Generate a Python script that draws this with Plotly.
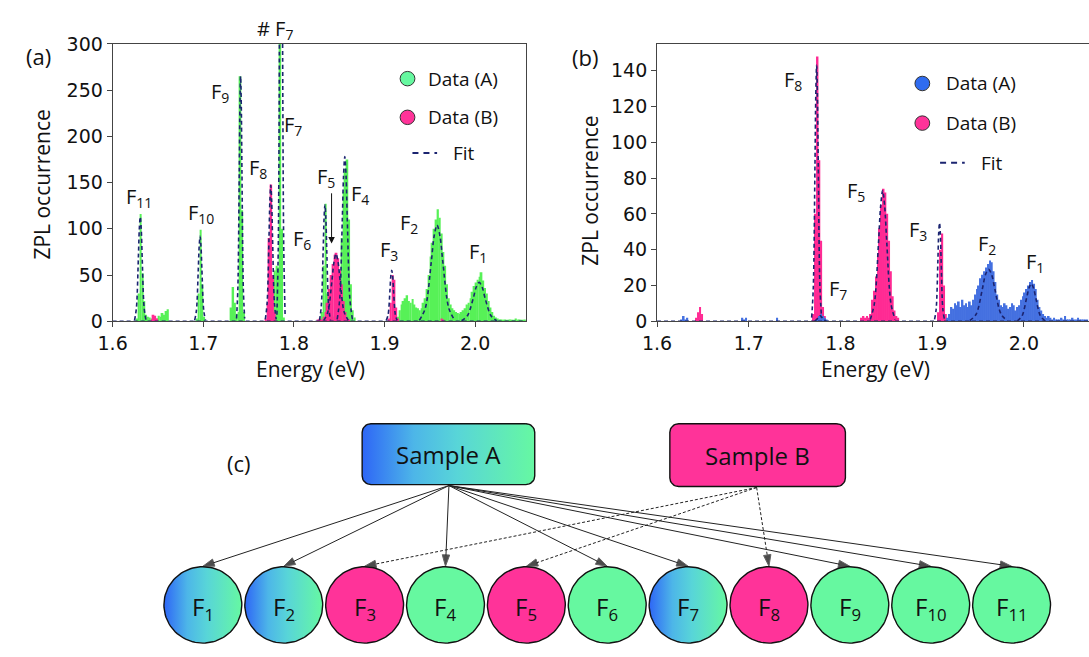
import math
import plotly.graph_objects as go

W, H = 1089, 657

# ---------------- data ----------------
BIN_W = 0.002  # histogram bin width (eV)

# (bin start energy, counts...) — panel (a)
A_GREEN_SEGMENTS = [
    (1.626, [3, 30, 116, 52, 22, 7, 5, 4, 3]),
    (1.648, [3, 6, 5, 9, 7, 11, 13]),
    (1.692, [3, 30, 99, 40, 5]),
    (1.730, [15, 37, 20, 8, 10, 265, 120, 10]),
    (1.776, [8, 55, 60, 58, 420, 100, 4]),
    (1.828, [2, 10, 60, 127, 30, 8, 5, 5, 6, 10, 20, 45, 90, 140, 165, 175, 110, 40, 12, 4]),
    (1.914, [5, 12, 18, 22, 25, 28, 22, 20, 24, 18, 15, 14, 12, 14, 20, 25, 35, 50, 70, 85,
             100, 110, 121, 112, 95, 75, 60, 40, 25, 18, 14, 12, 10, 9, 8, 10, 12, 14, 18, 20,
             25, 32, 38, 42, 45, 48, 53, 44, 36, 30, 22, 15, 10, 6, 4, 3, 2, 2, 1, 2,
             1, 1, 2, 1, 1, 3, 1, 2, 1, 1, 2]),
]
A_PINK_SEGMENTS = [
    (1.642, [2, 7, 6, 3]),
    (1.768, [3, 20, 90, 148, 50, 10]),
    (1.826, [2, 3, 2, 5, 10, 20, 35, 50, 62, 72, 74, 68, 55, 40, 22, 10, 4, 2]),
    (1.904, [3, 20, 50, 45, 15, 3]),
    (1.962, [3, 2]),
]
# panel (b)
B_BLUE_SEGMENTS = [
    (1.626, [1, 3, 1, 2]),
    (1.692, [2, 1, 2]),
    (1.730, [2]),
    (1.774, [1, 3, 4, 3, 2, 1]),
    (1.916, [2, 4, 8, 7, 10, 9, 11, 8, 12, 9, 10, 8, 11, 9, 12, 15, 18, 20, 24, 26,
             28, 30, 32, 34, 33, 28, 22, 15, 12, 9, 8, 10, 9, 7, 8, 10, 9, 6, 8, 9,
             12, 14, 16, 18, 20, 22, 23, 21, 18, 12, 8, 6, 4, 3, 2, 3, 2, 1, 2, 1,
             1, 1, 2, 1, 3, 1, 1, 1, 2, 1, 1, 2, 1, 1, 1, 1, 1]),
]
B_PINK_SEGMENTS = [
    (1.642, [2, 5, 8, 4]),
    (1.770, [4, 60, 148, 90, 45, 8, 3]),
    (1.822, [2, 3, 2, 3, 2, 4, 12, 17, 25, 38, 52, 65, 74, 72, 60, 45, 28, 14, 6, 3, 2]),
    (1.906, [5, 40, 49, 20, 4]),
]

# fitted curves: (energies, counts) per peak
FIT_A_SEGMENTS = [
    ([1.600, 2.056], [0, 0]),
    ([1.6242, 1.6263, 1.6284, 1.62945, 1.6305, 1.63155, 1.6326, 1.6347, 1.6368], [1, 15, 69, 100, 113, 100, 69, 15, 1]),
    ([1.6905, 1.6925, 1.6945, 1.6955, 1.6965, 1.6975, 1.6985, 1.7005, 1.7025], [1, 12, 56, 81, 92, 81, 56, 12, 1]),
    ([1.7367, 1.7382, 1.7397, 1.74045, 1.7412, 1.74195, 1.7427, 1.7442, 1.7457], [3, 36, 161, 234, 265, 234, 161, 36, 3]),
    ([1.7685, 1.7705, 1.7725, 1.7735, 1.7745, 1.7755, 1.7765, 1.7785, 1.7805], [2, 20, 89, 130, 147, 130, 89, 20, 2]),
    ([1.7813, 1.7828, 1.7843, 1.78505, 1.7858, 1.78655, 1.7873, 1.7888, 1.7903], [7, 81, 364, 529, 600, 529, 364, 81, 7]),
    ([1.8283, 1.8303, 1.8323, 1.8333, 1.8343, 1.8353, 1.8363, 1.8383, 1.8403], [1, 17, 76, 111, 126, 111, 76, 17, 1]),
    ([1.8330, 1.8375, 1.8420, 1.84425, 1.8465, 1.84875, 1.8510, 1.8555, 1.8600], [1, 10, 44, 64, 73, 64, 44, 10, 1]),
    ([1.8478, 1.8506, 1.8534, 1.8548, 1.8562, 1.8576, 1.8590, 1.8618, 1.8646], [2, 24, 108, 157, 178, 157, 108, 24, 2]),
    ([1.9020, 1.9040, 1.9060, 1.9070, 1.9080, 1.9090, 1.9100, 1.9120, 1.9140], [1, 7, 33, 49, 55, 49, 33, 7, 1]),
    ([1.9385, 1.9450, 1.9515, 1.95475, 1.9580, 1.96125, 1.9645, 1.9710, 1.9775], [1, 14, 63, 92, 104, 92, 63, 14, 1]),
    ([1.9850, 1.9915, 1.9980, 2.00125, 2.0045, 2.00775, 2.0110, 2.0175, 2.0240], [0.5, 6, 25, 37, 42, 37, 25, 6, 0.5]),
]
FIT_B_SEGMENTS = [
    ([1.600, 2.071], [0, 0]),
    ([1.7686, 1.7704, 1.7722, 1.7731, 1.7740, 1.7749, 1.7758, 1.7776, 1.7794], [2, 19, 87, 126, 143, 126, 87, 19, 2]),
    ([1.7720, 1.7760, 1.7780, 1.7800, 1.7840], [0, 2, 3, 2, 0]),
    ([1.8325, 1.8370, 1.8415, 1.84375, 1.8460, 1.84825, 1.8505, 1.8550, 1.8595], [1, 10, 44, 64, 73, 64, 44, 10, 1]),
    ([1.9026, 1.9044, 1.9062, 1.9071, 1.9080, 1.9089, 1.9098, 1.9116, 1.9134], [1, 7, 33, 49, 55, 49, 33, 7, 1]),
    ([1.9410, 1.9480, 1.9547, 1.9581, 1.9615, 1.9649, 1.9683, 1.9751, 1.9820], [0.3, 4, 18, 26, 29, 26, 18, 4, 0.3]),
    ([1.9930, 1.9980, 2.0030, 2.0055, 2.0080, 2.0105, 2.0130, 2.0180, 2.0230], [0.2, 3, 13, 18.5, 21, 18.5, 13, 3, 0.2]),
]

XTICKS = [1.6, 1.7, 1.8, 1.9, 2.0]
XTICK_TEXT = ["1.6", "1.7", "1.8", "1.9", "2.0"]
YTICKS_A = [0, 50, 100, 150, 200, 250, 300]
YTICKS_B = [0, 20, 40, 60, 80, 100, 120, 140]

# peak labels: (text, energy, count)
PEAK_LABELS_A = [
    ("F<sub>11</sub>", 1.6294, 134), ("F<sub>10</sub>", 1.698, 116), ("F<sub>9</sub>", 1.7186, 247),
    ("F<sub>8</sub>", 1.760, 165), ("F<sub>7</sub>", 1.7991, 212), ("F<sub>6</sub>", 1.809, 88),
    ("F<sub>5</sub>", 1.836, 156), ("F<sub>4</sub>", 1.873, 137), ("F<sub>3</sub>", 1.9047, 77),
    ("F<sub>2</sub>", 1.9275, 106), ("F<sub>1</sub>", 2.0037, 74),
]
OFFSCALE_LABEL = ("# F<sub>7</sub>", 1.7795)  # drawn above the top of panel (a)
PEAK_LABELS_B = [
    ("F<sub>8</sub>", 1.7484, 134.6), ("F<sub>7</sub>", 1.7978, 17.8), ("F<sub>5</sub>", 1.8172, 72.4),
    ("F<sub>3</sub>", 1.885, 50.8), ("F<sub>2</sub>", 1.9602, 42.7), ("F<sub>1</sub>", 2.0118, 33),
]

# diagram (c)
NODE_NAMES = ["F<sub>%d</sub>" % i for i in range(1, 12)]
NODE_KIND = ["AB", "AB", "B", "A", "B", "A", "AB", "B", "A", "A", "A"]
LINKS_A = [1, 2, 4, 6, 7, 9, 10, 11]
LINKS_B = [3, 5, 8]

# ---------------- style ----------------
GREEN_BAR = "#57f157"
PINK = "#ff2a93"
BLUE_BAR = "#4470e0"
FIT_COL = "#1b2470"
MINT = "#66f8a0"
NODE_PINK = "#ff3399"
LEG_BLUE = "#2f6cf0"
GRAD = [[0, "#2e66f6"], [0.3, "#4db6e8"], [0.55, "#58d5d8"], [1, "#66f8a2"]]
AX_COL = "#444444"
TEXT_FONT = "Open Sans"
TICK_FONT = "DejaVu Sans"

# panel geometry (pixels)
A_LEFT, A_RIGHT, B_LEFT, PLOT_TOP, PLOT_BOTTOM = 99, 518, 651, 34, 321


def px(x):
    return x / W


def py(y):
    return 1 - y / H


def expand(segments):
    xs, ys = [], []
    for start, counts in segments:
        for i, c in enumerate(counts):
            xs.append(round(start + (i + 0.5) * BIN_W, 5))
            ys.append(c)
    return xs, ys


def join(segments):
    xs, ys = [], []
    for e, c in segments:
        xs += list(e) + [None]
        ys += list(c) + [None]
    return xs, ys


fig = go.Figure()


def add_hist(segments, color, xa, ya):
    xs, ys = expand(segments)
    fig.add_trace(go.Bar(x=xs, y=ys, width=BIN_W, marker=dict(color=color, line=dict(width=0)),
                         xaxis=xa, yaxis=ya, showlegend=False, hoverinfo="skip"))


add_hist(A_GREEN_SEGMENTS, GREEN_BAR, "x", "y")
add_hist(A_PINK_SEGMENTS, PINK, "x", "y")
add_hist(B_PINK_SEGMENTS, PINK, "x2", "y2")
add_hist(B_BLUE_SEGMENTS, BLUE_BAR, "x2", "y2")

for segs, xa, ya in [(FIT_A_SEGMENTS, "x", "y"), (FIT_B_SEGMENTS, "x2", "y2")]:
    fx, fy = join(segs)
    fig.add_trace(go.Scatter(x=fx, y=fy, mode="lines", xaxis=xa, yaxis=ya,
                             line=dict(color=FIT_COL, width=1.6, dash="4px,3px", shape="spline", smoothing=0.9),
                             connectgaps=False, showlegend=False, hoverinfo="skip"))

annotations = []


def label(**kw):
    base = dict(showarrow=False, xanchor="center", yanchor="middle")
    base.update(kw)
    annotations.append(base)


for txt, e, c in PEAK_LABELS_A:
    label(x=e, y=c, xref="x", yref="y", text=txt, font=dict(family=TEXT_FONT, size=20, color="#111"))
for txt, e, c in PEAK_LABELS_B:
    label(x=e, y=c, xref="x2", yref="y2", text=txt, font=dict(family=TEXT_FONT, size=20, color="#111"))
label(x=OFFSCALE_LABEL[1], y=py(19), xref="x", yref="paper", text=OFFSCALE_LABEL[0],
      font=dict(family=TEXT_FONT, size=20, color="#111"))
# arrow to F5 in (a)
annotations.append(dict(x=1.8416, y=84, ax=1.8416, ay=140, xref="x", yref="y", axref="x", ayref="y",
                        text="", showarrow=True, arrowhead=2, arrowsize=1.3, arrowwidth=1, arrowcolor="#111"))

# axis titles and panel letters
for txt, x, y, ang in [("ZPL occurrence", 27, 180, -90), ("ZPL occurrence", 583, 186, -90),
                       ("Energy (eV)", 300, 370, 0), ("Energy (eV)", 873, 370, 0)]:
    label(x=px(x), y=py(y), xref="paper", yref="paper", text=txt, textangle=ang,
          font=dict(family=TEXT_FONT, size=21, color="#111"))
for txt, x, y in [("(a)", 24, 47), ("(b)", 578, 48), ("(c)", 227, 468)]:
    label(x=px(x), y=py(y), xref="paper", yref="paper", text=txt,
          font=dict(family=TEXT_FONT, size=22, color="#111"))

shapes = []
# legends
LEGENDS = [
    (398, 70, 110, 147, 403, 428, 417, 442, MINT),
    (920, 75, 116, 157, 938, 963, 942, 977, LEG_BLUE),
]
for mx, ya_, yb_, yf, lx0, lx1, tx, tfx, colA in LEGENDS:
    for yy, col, lab in [(ya_, colA, "Data (A)"), (yb_, NODE_PINK, "Data (B)")]:
        shapes.append(dict(type="circle", xref="paper", yref="paper",
                           x0=px(mx - 7.5), x1=px(mx + 7.5), y0=py(yy + 7.5), y1=py(yy - 7.5),
                           fillcolor=col, line=dict(color="#333", width=1)))
        label(x=px(tx), y=py(yy), xref="paper", yref="paper", xanchor="left", text=lab,
              font=dict(family=TEXT_FONT, size=19, color="#111"))
    shapes.append(dict(type="line", xref="paper", yref="paper", x0=px(lx0), x1=px(lx1), y0=py(yf), y1=py(yf),
                       line=dict(color=FIT_COL, width=2, dash="6px,5px")))
    label(x=px(tfx), y=py(yf), xref="paper", yref="paper", xanchor="left", text="Fit",
          font=dict(family=TEXT_FONT, size=19, color="#111"))

# ---------------- diagram (c) ----------------
NODE_CX0, NODE_DX, NODE_CY, NODE_R = 190.5, 82.0, 614.5, 39.5
BOX_A = (352, 427, 527, 490)
BOX_B = (664, 427, 842, 492)
SRC_A = (440, 491)
SRC_B = (752, 493)


def rounded_rect(x0, y0, x1, y1, r=9, n=8):
    xs, ys = [], []
    corners = [(x1 - r, y0 + r, -90), (x1 - r, y1 - r, 0), (x0 + r, y1 - r, 90), (x0 + r, y0 + r, 180)]
    for cx, cy, a0 in corners:
        for k in range(n + 1):
            a = math.radians(a0 + 90 * k / n)
            xs.append(cx + r * math.cos(a))
            ys.append(cy + r * math.sin(a))
    xs.append(xs[0]); ys.append(ys[0])
    return xs, ys


def add_poly(xs, ys, kind):
    kw = dict(x=xs, y=ys, mode="lines", fill="toself", line=dict(color="#111", width=1.4),
              xaxis="x3", yaxis="y3", showlegend=False, hoverinfo="skip")
    if kind == "AB":
        kw["fillgradient"] = dict(type="horizontal", colorscale=GRAD)
    elif kind == "B":
        kw["fillcolor"] = NODE_PINK
    else:
        kw["fillcolor"] = MINT
    fig.add_trace(go.Scatter(**kw))


bx, by = rounded_rect(*BOX_A)
add_poly(bx, by, "AB")
bx, by = rounded_rect(*BOX_B)
add_poly(bx, by, "B")
for txt, box in [("Sample A", BOX_A), ("Sample B", BOX_B)]:
    label(x=(box[0] + box[2]) / 2, y=(box[1] + box[3]) / 2, xref="x3", yref="y3", text=txt,
          font=dict(family=TEXT_FONT, size=24, color="#111"))

# arrows
for links, src, dash in [(LINKS_A, SRC_A, "solid"), (LINKS_B, SRC_B, "3px,2px")]:
    for n in links:
        tx = NODE_CX0 + NODE_DX * (n - 1)
        ty = NODE_CY - NODE_R - 0.5
        fig.add_trace(go.Scatter(x=[src[0], tx], y=[src[1], ty], mode="lines+markers",
                                 line=dict(color="#222", width=1, dash=dash),
                                 marker=dict(symbol="arrow", size=[0, 12], angleref="previous", color="#000"),
                                 xaxis="x3", yaxis="y3", showlegend=False, hoverinfo="skip"))

# nodes
for i, (name, kind) in enumerate(zip(NODE_NAMES, NODE_KIND)):
    cx = NODE_CX0 + NODE_DX * i
    cxs = [cx + NODE_R * math.cos(2 * math.pi * k / 96) for k in range(97)]
    cys = [NODE_CY + NODE_R * math.sin(2 * math.pi * k / 96) for k in range(97)]
    add_poly(cxs, cys, kind)
    label(x=cx, y=NODE_CY + 3, xref="x3", yref="y3", text=name,
          font=dict(family=TEXT_FONT, size=24, color="#111"))

axis_common = dict(showgrid=False, zeroline=False, showline=True, linecolor=AX_COL, linewidth=1,
                   ticks="outside", ticklen=5, tickcolor=AX_COL,
                   tickfont=dict(family=TICK_FONT, size=19, color="#111"))

fig.update_layout(
    width=W, height=H, autosize=False,
    margin=dict(l=0, r=0, t=0, b=0),
    paper_bgcolor="white", plot_bgcolor="white",
    barmode="overlay", showlegend=False,
    xaxis=dict(domain=[px(A_LEFT), px(A_RIGHT)], range=[1.6, 2.056], tickvals=XTICKS, ticktext=XTICK_TEXT,
               mirror=True, anchor="y", **axis_common),
    yaxis=dict(domain=[py(PLOT_BOTTOM), py(PLOT_TOP)], range=[0, 300], tickvals=YTICKS_A, mirror=True,
               anchor="x", **axis_common),
    xaxis2=dict(domain=[px(B_LEFT), 1.0], range=[1.6, 2.071], tickvals=XTICKS, ticktext=XTICK_TEXT,
                mirror=True, anchor="y2", **axis_common),
    yaxis2=dict(domain=[py(PLOT_BOTTOM), py(PLOT_TOP)], range=[0, 155], tickvals=YTICKS_B, anchor="x2",
                **axis_common),
    xaxis3=dict(domain=[0, 1], range=[0, W], visible=False, anchor="y3", fixedrange=True),
    yaxis3=dict(domain=[0, py(395)], range=[H, 395], visible=False, anchor="x3", fixedrange=True),
    annotations=annotations, shapes=shapes,
)

fig.write_html("out.html")
